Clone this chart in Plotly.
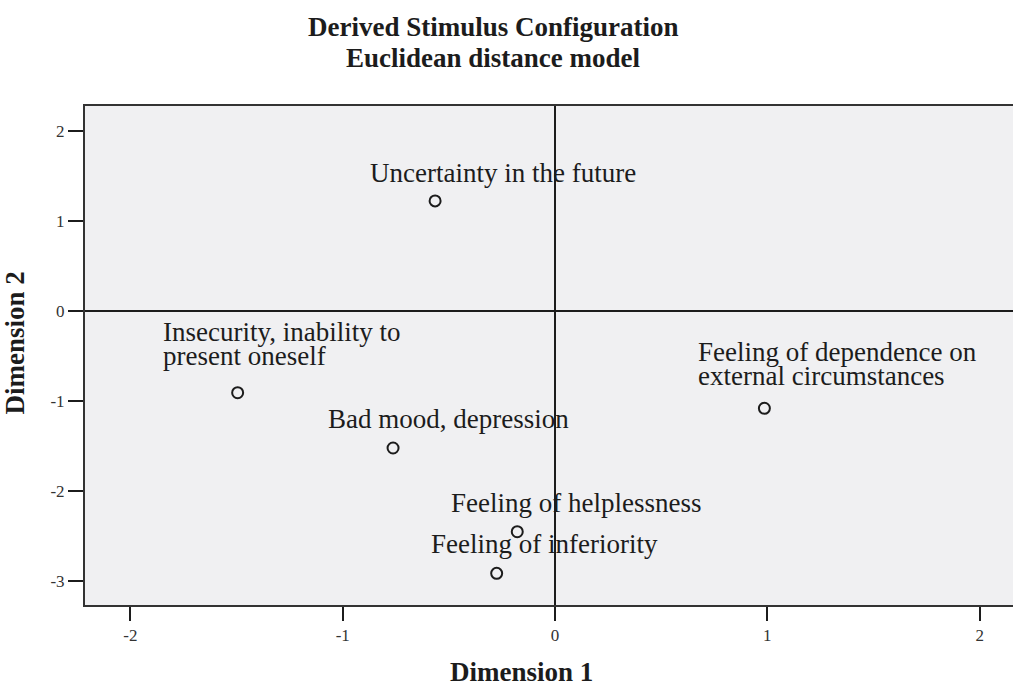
import plotly.graph_objects as go

# ---- data ----
labels = [
    "Uncertainty in the future",
    "Insecurity, inability to<br>present oneself",
    "Bad mood, depression",
    "Feeling of dependence on<br>external circumstances",
    "Feeling of helplessness",
    "Feeling of inferiority",
]
dim1 = [-0.565, -1.495, -0.763, 0.986, -0.178, -0.275]
dim2 = [1.224, -0.909, -1.524, -1.082, -2.455, -2.918]

x_ticks = [-2, -1, 0, 1, 2]
y_ticks = [-3, -2, -1, 0, 1, 2]

title_lines = ["Derived Stimulus Configuration", "Euclidean distance model"]
x_title = "Dimension 1"
y_title = "Dimension 2"

# ---- styling / label placement (pixel offsets from each point) ----
label_dx = [-66, -76, -66, -67, -67, -67]
label_dy = [28, 37, 29, 32, 29, 29]   # offset of the last line's centre above the point
LINE_GAP = 24

SERIF = "Liberation Serif, Times New Roman, serif"
INK = "#1c1c1c"

fig = go.Figure()
fig.add_trace(go.Scatter(
    x=dim1, y=dim2, mode="markers",
    marker=dict(symbol="circle-open", size=11, color=INK, line=dict(width=2, color=INK)),
    hoverinfo="skip", showlegend=False,
))

for x, y, t, dx, dy in zip(dim1, dim2, labels, label_dx, label_dy):
    lines = t.split("<br>")
    n = len(lines)
    for i, ln in enumerate(lines):
        fig.add_annotation(
            x=x, y=y, text=ln, showarrow=False, xanchor="left", yanchor="middle",
            align="left", xshift=dx, yshift=dy + (n - 1 - i) * LINE_GAP,
            borderpad=0,
            font=dict(family=SERIF, size=27, color=INK),
        )

# title lines
for ln, yp in zip(title_lines, [1.158, 1.096]):
    fig.add_annotation(
        xref="paper", yref="paper", x=0.4407, y=yp, text="<b>" + ln + "</b>",
        showarrow=False, xanchor="center", yanchor="middle",
        font=dict(family=SERIF, size=27, color=INK),
    )

fig.add_annotation(
    xref="paper", yref="paper", x=0.470, y=-0.1343, text="<b>" + x_title + "</b>",
    showarrow=False, xanchor="center", yanchor="middle", borderpad=0,
    font=dict(family=SERIF, size=27, color=INK),
)
fig.add_annotation(
    xref="paper", yref="paper", x=-0.0749, y=0.525, text="<b>" + y_title + "</b>",
    showarrow=False, xanchor="center", yanchor="middle", textangle=-90, borderpad=0,
    font=dict(family=SERIF, size=27, color=INK),
)

fig.update_layout(
    width=1013, height=687,
    margin=dict(l=85, r=0, t=106, b=82),
    paper_bgcolor="white", plot_bgcolor="#f0f0f2",
    xaxis=dict(
        range=[-2.214, 2.157], tickvals=x_ticks, ticktext=[str(v) for v in x_ticks],
        showgrid=False, zeroline=True, zerolinecolor=INK, zerolinewidth=2,
        showline=True, mirror=True, linecolor="#333333", linewidth=2,
        ticks="outside", ticklen=14, tickwidth=2, tickcolor=INK,
        tickfont=dict(family=SERIF, size=17, color="#333333"),
        fixedrange=True,
    ),
    yaxis=dict(
        range=[-3.270, 2.280], tickvals=y_ticks, ticktext=[str(v) for v in y_ticks],
        showgrid=False, zeroline=True, zerolinecolor=INK, zerolinewidth=2,
        showline=True, mirror=False, linecolor="#333333", linewidth=2,
        ticks="outside", ticklen=15, tickwidth=2, tickcolor=INK,
        tickfont=dict(family=SERIF, size=17, color="#333333"),
        fixedrange=True,
    ),
)

fig.write_html(
    "out.html",
    config={"displayModeBar": False},
    post_script="document.body.style.margin='0';document.body.style.overflow='hidden';",
)
